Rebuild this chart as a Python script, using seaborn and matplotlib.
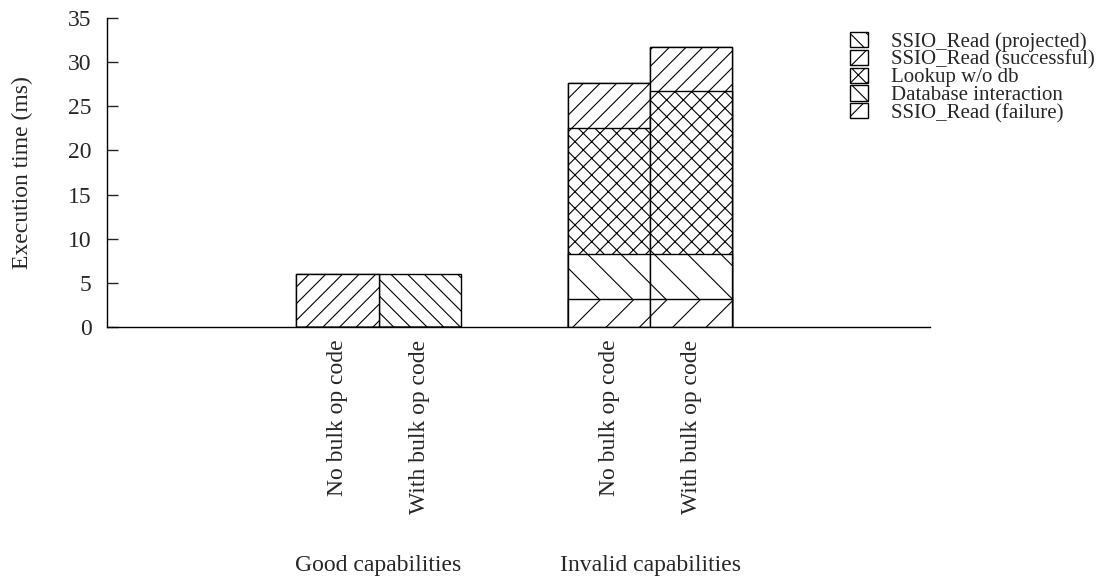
import seaborn as sns
import pandas as pd
import matplotlib.pyplot as plt
from matplotlib.patches import Patch

# bars, left to right
groups = ['Good capabilities', 'Good capabilities', 'Invalid capabilities', 'Invalid capabilities']
variants = ['No bulk op code', 'With bulk op code', 'No bulk op code', 'With bulk op code']

# segments, bottom to top (ms)
ssio_failure = [0, 0, 3.2, 3.2]
db_interaction = [0, 0, 5.1, 5.1]
lookup_wo_db = [0, 0, 14.3, 18.4]
ssio_successful = [6.0, 0, 5.0, 5.0]
ssio_projected = [0, 6.0, 0, 0]

series = ['SSIO_Read (failure)', 'Database interaction', 'Lookup w/o db',
          'SSIO_Read (successful)', 'SSIO_Read (projected)']
values = [ssio_failure, db_interaction, lookup_wo_db, ssio_successful, ssio_projected]
hatches = ['/', '\\', 'xx', '//', '\\\\']

bar_pos = [2.8, 3.8, 6.1, 7.1]

sns.set_style('ticks')
plt.rcParams['font.family'] = ['Liberation Serif', 'DejaVu Serif']
plt.rcParams['hatch.linewidth'] = 0.8
plt.rcParams['hatch.color'] = 'black'

# cumulative tops for each layer
rows = []
running = [0.0] * 4
for name, vals in zip(series, values):
    running = [r + v for r, v in zip(running, vals)]
    for i in range(4):
        rows.append({'series': name, 'pos': bar_pos[i], 'top': running[i]})
df = pd.DataFrame(rows)

fig, ax = plt.subplots(figsize=(11.09, 5.81), dpi=100)
fig.subplots_adjust(left=0.0965, right=0.8386, bottom=0.437, top=0.969)

# draw top layer first, lower layers cover it
for name, h in reversed(list(zip(series, hatches))):
    sub = df[df['series'] == name]
    sns.barplot(data=sub, x='pos', y='top', native_scale=True, width=1.0,
                color='white', saturation=1, edgecolor='black', linewidth=1,
                hatch=h, errorbar=None, ax=ax)

fs = 17
ax.set_xlim(0, 10)
ax.set_ylim(0, 35)
ax.set_yticks(range(0, 36, 5))
ax.set_xticks(bar_pos)
ax.set_xticklabels(variants, rotation=90, va='top', ha='center')
ax.tick_params(axis='x', length=0, pad=9, labelsize=fs)
ax.tick_params(axis='y', direction='in', length=8, width=1, pad=11, labelsize=fs)
ax.set_xlabel('')
ax.set_ylabel('Execution time (ms)', fontsize=fs, labelpad=25)
for s in ['top', 'right']:
    ax.spines[s].set_visible(False)
for s in ['left', 'bottom']:
    ax.spines[s].set_linewidth(1)
    ax.spines[s].set_color('black')

for g in ['Good capabilities', 'Invalid capabilities']:
    xs = [p for p, gg in zip(bar_pos, groups) if gg == g]
    ax.text(sum(xs) / len(xs), -0.77, g, transform=ax.get_xaxis_transform(),
            ha='center', va='center', fontsize=fs)

handles = [Patch(facecolor='white', edgecolor='black', hatch=h, label=n)
           for n, h in zip(series, hatches)][::-1]
fig.legend(handles=handles, loc='upper left', bbox_to_anchor=(0.7665, 0.945),
           frameon=False, fontsize=15, handlelength=0.85, handleheight=0.75,
           labelspacing=-0.1, handletextpad=1.1, borderaxespad=0, borderpad=0)

fig.savefig('out.png', dpi=100)
